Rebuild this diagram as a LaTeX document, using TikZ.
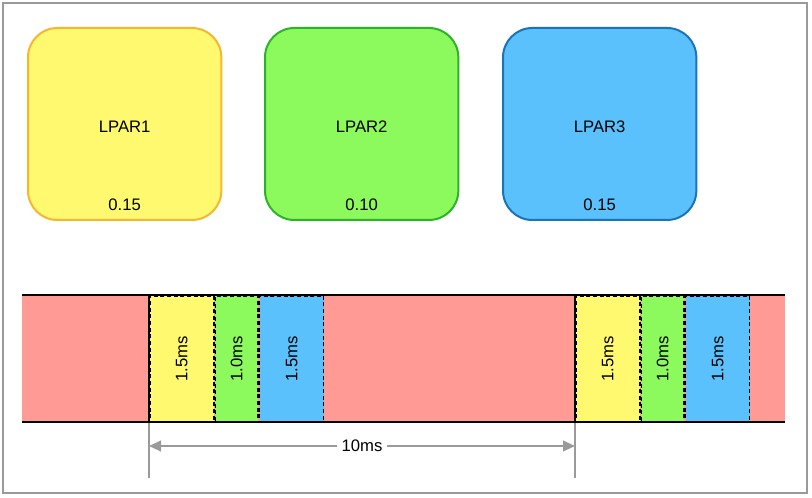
\documentclass[tikz,border=0pt]{standalone}
\usepackage{fontspec}
\setmainfont{Liberation Sans}
\usetikzlibrary{positioning,arrows.meta}
\definecolor{lparY}{HTML}{FEF96F}
\definecolor{lparYd}{HTML}{F5B731}
\definecolor{lparG}{HTML}{8CF95C}
\definecolor{lparGd}{HTML}{2DB22A}
\definecolor{lparB}{HTML}{5AC1FC}
\definecolor{lparBd}{HTML}{1A74B9}
\definecolor{idle}{HTML}{FF9A94}
\definecolor{dimgray}{HTML}{9A9A9A}
\begin{document}
\begin{tikzpicture}[x=0.75pt,y=-0.75pt,
    font=\fontsize{12.5}{14}\selectfont,
    lpar/.style={rectangle, rounded corners=22pt, minimum width=145pt, minimum height=144pt, line width=1.5pt, anchor=north west},
    slot/.style={rectangle, inner sep=0pt, minimum height=95pt, anchor=north west, draw=black, dashed, line width=1.2pt, dash pattern=on 3pt off 2pt},
    dim/.style={draw=dimgray, line width=1.5pt}
]
\useasboundingbox (0,0) rectangle (812,498);
\draw[dimgray, line width=1pt] (3,3) rectangle (807,493);

% partitions
\node[lpar, draw=lparYd, fill=lparY] (lpar1) at (27,27) {};
\node[lpar, draw=lparGd, fill=lparG] (lpar2) at (264,27) {};
\node[lpar, draw=lparBd, fill=lparB] (lpar3) at (502,27) {};
\foreach \n/\w in {1/0.15, 2/0.10, 3/0.15} {
  \node (name\n) at ([yshift=-2pt]lpar\n.center) {LPAR\n};
  \node[above=4pt] (ent\n) at (lpar\n.south) {\w};
}

% timeline
\fill[idle] (22,295) rectangle (785,422);
\foreach \s/\x in {a/149, b/575} {
  \node[slot, fill=lparY, minimum width=48pt] (y\s) at (\x,295) {\rotatebox{90}{1.5ms}};
  \node[slot, fill=lparG, minimum width=32pt, right=0pt of y\s.north east, anchor=north west] (g\s) {\rotatebox{90}{1.0ms}};
  \node[slot, fill=lparB, minimum width=48pt, right=0pt of g\s.north east, anchor=north west] (b\s) {\rotatebox{90}{1.5ms}};
}
\draw[line width=2pt] (22,295) -- (785,295);
\draw[line width=2pt] (22,422) -- (785,422);
\draw[line width=2pt] (ya.north west) -- (ya.south west);
\draw[line width=2pt] (yb.north west) -- (yb.south west);

% period
\coordinate (pa) at ([yshift=-41pt]ya.south west);
\coordinate (pb) at ([yshift=-41pt]yb.south west);
\draw[dim] (ya.south west) -- (pa);
\draw[dim] (yb.south west) -- (pb);
\node[fill=white, inner sep=3pt] (period) at (362,446) {10ms};
\draw[dim, -{Triangle[length=9pt,width=8pt]}] (period.west) -- (149,446);
\draw[dim, -{Triangle[length=9pt,width=8pt]}] (period.east) -- (575,446);
\end{tikzpicture}
\end{document}
